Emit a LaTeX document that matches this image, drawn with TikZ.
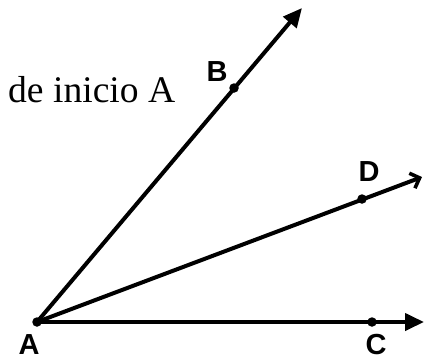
\documentclass[tikz,border=0pt]{standalone}
\usepackage{fontspec}
\setmainfont{Liberation Serif}
\setsansfont{Liberation Sans}
\usetikzlibrary{arrows.meta}
\begin{document}
\begin{tikzpicture}[x=1pt,y=-1pt,
  ray/.style={line width=4pt},
  pt/.style={circle,fill,inner sep=0pt,minimum size=9.5pt},
  lbl/.style={inner sep=0pt,font=\sffamily\bfseries\fontsize{29}{32}\selectfont}]
\useasboundingbox (0,0) rectangle (428,360);
\coordinate (A) at (37,322);
\coordinate (Bend) at (302,8);
\coordinate (Cend) at (424,322);
\coordinate (Dend) at (422,177);
\draw[ray,-{Triangle[length=19pt,width=17pt]}] (A) -- (Bend);
\draw[ray,-{Triangle[length=19pt,width=17pt]}] (A) -- (Cend);
\draw[ray,-{Straight Barb[length=8pt,width=16pt,line width=3.6pt]}] (A) -- (Dend);
\node[pt] (a) at (A) {};
\node[pt] (b) at (234,88) {};
\node[pt] (c) at (372,322) {};
\node[pt] (d) at (362,199) {};
\node[lbl] (la) at (29,345) {A};
\node[lbl] (lb) at (217,72) {B};
\node[lbl] (lc) at (376,345) {C};
\node[lbl] (ld) at (369,172) {D};
\node[anchor=base west,inner sep=0pt,font=\fontsize{37.6}{40}\selectfont] (txt) at (8,102) {de inicio A};
\end{tikzpicture}
\end{document}
